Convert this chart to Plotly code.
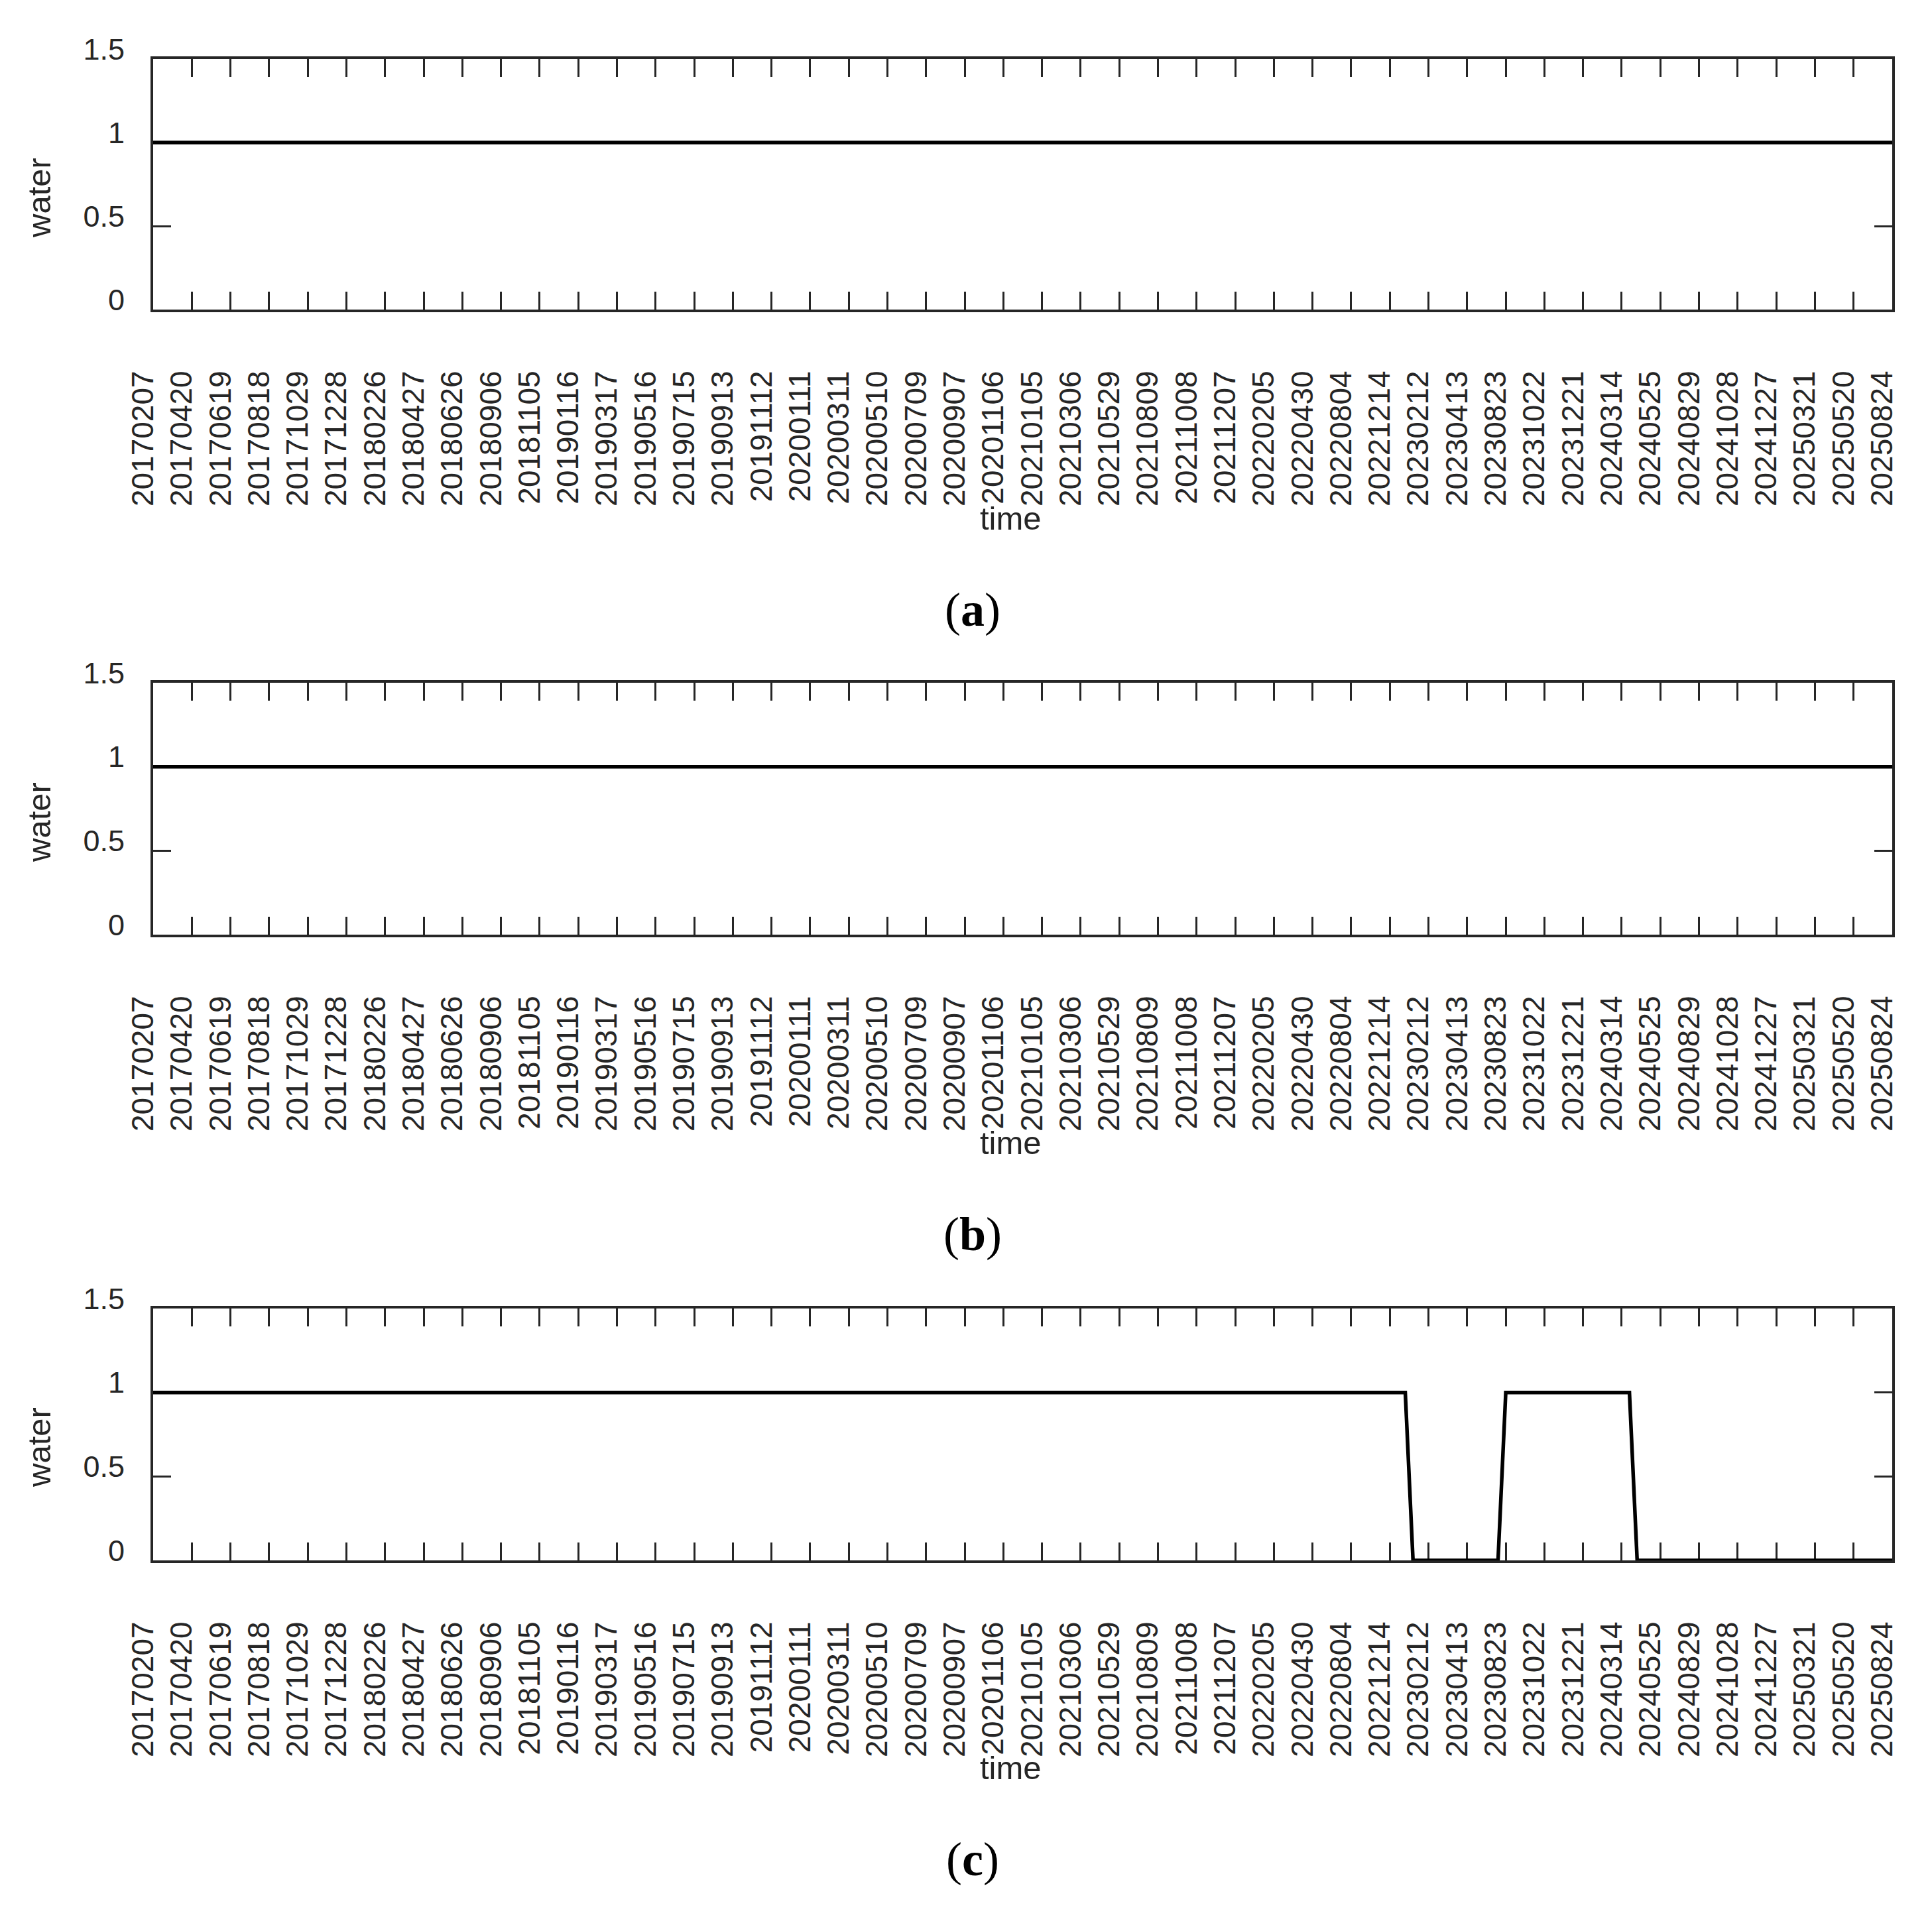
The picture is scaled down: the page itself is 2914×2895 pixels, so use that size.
import plotly.graph_objects as go

# ---------------- data ----------------
tick_labels = [
    "20170207", "20170420", "20170619", "20170818", "20171029", "20171228",
    "20180226", "20180427", "20180626", "20180906", "20181105", "20190116",
    "20190317", "20190516", "20190715", "20190913", "20191112", "20200111",
    "20200311", "20200510", "20200709", "20200907", "20201106", "20210105",
    "20210306", "20210529", "20210809", "20211008", "20211207", "20220205",
    "20220430", "20220804", "20221214", "20230212", "20230413", "20230823",
    "20231022", "20231221", "20240314", "20240525", "20240829", "20241028",
    "20241227", "20250321", "20250520", "20250824",
]
samples_per_tick = 5

water_a = [
    1, 1, 1, 1, 1, 1, 1, 1, 1, 1, 1, 1, 1, 1, 1, 1, 1, 1, 1, 1,
    1, 1, 1, 1, 1, 1, 1, 1, 1, 1, 1, 1, 1, 1, 1, 1, 1, 1, 1, 1,
    1, 1, 1, 1, 1, 1, 1, 1, 1, 1, 1, 1, 1, 1, 1, 1, 1, 1, 1, 1,
    1, 1, 1, 1, 1, 1, 1, 1, 1, 1, 1, 1, 1, 1, 1, 1, 1, 1, 1, 1,
    1, 1, 1, 1, 1, 1, 1, 1, 1, 1, 1, 1, 1, 1, 1, 1, 1, 1, 1, 1,
    1, 1, 1, 1, 1, 1, 1, 1, 1, 1, 1, 1, 1, 1, 1, 1, 1, 1, 1, 1,
    1, 1, 1, 1, 1, 1, 1, 1, 1, 1, 1, 1, 1, 1, 1, 1, 1, 1, 1, 1,
    1, 1, 1, 1, 1, 1, 1, 1, 1, 1, 1, 1, 1, 1, 1, 1, 1, 1, 1, 1,
    1, 1, 1, 1, 1, 1, 1, 1, 1, 1, 1, 1, 1, 1, 1, 1, 1, 1, 1, 1,
    1, 1, 1, 1, 1, 1, 1, 1, 1, 1, 1, 1, 1, 1, 1, 1, 1, 1, 1, 1,
    1, 1, 1, 1, 1, 1, 1, 1, 1, 1, 1, 1, 1, 1, 1, 1, 1, 1, 1, 1,
    1, 1, 1, 1, 1, 1,
]

water_b = [
    1, 1, 1, 1, 1, 1, 1, 1, 1, 1, 1, 1, 1, 1, 1, 1, 1, 1, 1, 1,
    1, 1, 1, 1, 1, 1, 1, 1, 1, 1, 1, 1, 1, 1, 1, 1, 1, 1, 1, 1,
    1, 1, 1, 1, 1, 1, 1, 1, 1, 1, 1, 1, 1, 1, 1, 1, 1, 1, 1, 1,
    1, 1, 1, 1, 1, 1, 1, 1, 1, 1, 1, 1, 1, 1, 1, 1, 1, 1, 1, 1,
    1, 1, 1, 1, 1, 1, 1, 1, 1, 1, 1, 1, 1, 1, 1, 1, 1, 1, 1, 1,
    1, 1, 1, 1, 1, 1, 1, 1, 1, 1, 1, 1, 1, 1, 1, 1, 1, 1, 1, 1,
    1, 1, 1, 1, 1, 1, 1, 1, 1, 1, 1, 1, 1, 1, 1, 1, 1, 1, 1, 1,
    1, 1, 1, 1, 1, 1, 1, 1, 1, 1, 1, 1, 1, 1, 1, 1, 1, 1, 1, 1,
    1, 1, 1, 1, 1, 1, 1, 1, 1, 1, 1, 1, 1, 1, 1, 1, 1, 1, 1, 1,
    1, 1, 1, 1, 1, 1, 1, 1, 1, 1, 1, 1, 1, 1, 1, 1, 1, 1, 1, 1,
    1, 1, 1, 1, 1, 1, 1, 1, 1, 1, 1, 1, 1, 1, 1, 1, 1, 1, 1, 1,
    1, 1, 1, 1, 1, 1,
]

water_c = [
    1, 1, 1, 1, 1, 1, 1, 1, 1, 1, 1, 1, 1, 1, 1, 1, 1, 1, 1, 1,
    1, 1, 1, 1, 1, 1, 1, 1, 1, 1, 1, 1, 1, 1, 1, 1, 1, 1, 1, 1,
    1, 1, 1, 1, 1, 1, 1, 1, 1, 1, 1, 1, 1, 1, 1, 1, 1, 1, 1, 1,
    1, 1, 1, 1, 1, 1, 1, 1, 1, 1, 1, 1, 1, 1, 1, 1, 1, 1, 1, 1,
    1, 1, 1, 1, 1, 1, 1, 1, 1, 1, 1, 1, 1, 1, 1, 1, 1, 1, 1, 1,
    1, 1, 1, 1, 1, 1, 1, 1, 1, 1, 1, 1, 1, 1, 1, 1, 1, 1, 1, 1,
    1, 1, 1, 1, 1, 1, 1, 1, 1, 1, 1, 1, 1, 1, 1, 1, 1, 1, 1, 1,
    1, 1, 1, 1, 1, 1, 1, 1, 1, 1, 1, 1, 1, 1, 1, 1, 1, 1, 1, 1,
    1, 1, 1, 0, 0, 0, 0, 0, 0, 0, 0, 0, 0, 0, 0, 1, 1, 1, 1, 1,
    1, 1, 1, 1, 1, 1, 1, 1, 1, 1, 1, 1, 0, 0, 0, 0, 0, 0, 0, 0,
    0, 0, 0, 0, 0, 0, 0, 0, 0, 0, 0, 0, 0, 0, 0, 0, 0, 0, 0, 0,
    0, 0, 0, 0, 0, 0,
]

y_tick_vals = [0, 0.5, 1, 1.5]
y_tick_text = ["0", "0.5", "1", "1.5"]
panel_letters = ["a", "b", "c"]

# ---------------- layout geometry (pixels, page body has 8px margin) ----------------
W, H = 2914, 2895
S = 8  # browser body offset
LEFT, RIGHT = 231 - S, 2854 - S
TOPS = [89 - S, 1030 - S, 1974 - S]
BOTTOMS = [467 - S, 1410 - S, 2354 - S]

AX_COLOR = "#262626"
SANS = "Liberation Sans, Arial, sans-serif"
SERIF = "Liberation Serif, Times New Roman, serif"

fig = go.Figure()
series = [water_a, water_b, water_c]
annotations = []

for i, ys in enumerate(series):
    n = i + 1
    xs = list(range(len(ys)))
    xa = "x" if n == 1 else f"x{n}"
    ya = "y" if n == 1 else f"y{n}"
    fig.add_trace(go.Scatter(
        x=xs, y=ys, mode="lines", xaxis=xa, yaxis=ya,
        line=dict(color="black", width=5.5), showlegend=False,
        hoverinfo="skip",
    ))
    tickvals = xs[::samples_per_tick]
    xkey = "xaxis" if n == 1 else f"xaxis{n}"
    ykey = "yaxis" if n == 1 else f"yaxis{n}"
    fig.update_layout({
        xkey: dict(
            domain=[LEFT / W, RIGHT / W], anchor=ya,
            range=[0, len(ys) - 1],
            tickmode="array", tickvals=tickvals, ticktext=tick_labels,
            tickangle=-90, ticks="inside", ticklen=27, tickwidth=3,
            tickcolor=AX_COLOR, showline=True, linewidth=4,
            linecolor=AX_COLOR, mirror="ticks", showgrid=False,
            zeroline=False, tickfont=dict(family=SANS, size=46, color=AX_COLOR),
            ticklabelstandoff=70, ticklabelshift=-15, automargin=False,
            layer="below traces",
        ),
        ykey: dict(
            domain=[1 - BOTTOMS[i] / H, 1 - TOPS[i] / H], anchor=xa,
            range=[0, 1.5],
            tickmode="array", tickvals=y_tick_vals, ticktext=y_tick_text,
            ticks="inside", ticklen=27, tickwidth=3, tickcolor=AX_COLOR,
            showline=True, linewidth=4, linecolor=AX_COLOR, mirror="ticks",
            showgrid=False, zeroline=False,
            tickfont=dict(family=SANS, size=45, color=AX_COLOR),
            ticklabelstandoff=30, ticklabelshift=-15, automargin=False,
            layer="below traces",
        ),
    })
    off = [0, 942, 1885][i]
    # y-axis title
    annotations.append(dict(
        text="water", textangle=-90, xref="paper", yref="paper",
        x=(59 - S) / W, y=1 - (299 + off - S) / H, xanchor="center", yanchor="middle",
        showarrow=False, font=dict(family=SANS, size=49, color=AX_COLOR),
    ))
    # x-axis title
    annotations.append(dict(
        text="time", xref="paper", yref="paper",
        x=(1525 - S) / W, y=1 - (782 + off - S) / H, xanchor="center", yanchor="middle",
        showarrow=False, font=dict(family=SANS, size=49, color=AX_COLOR),
    ))
    # panel letter
    annotations.append(dict(
        text=f"(<b>{panel_letters[i]}</b>)", xref="paper", yref="paper",
        x=(1467 - S) / W, y=1 - (920 + off - S) / H, xanchor="center", yanchor="middle",
        showarrow=False, font=dict(family=SERIF, size=72, color="black"),
    ))

fig.update_layout(
    width=W, height=H,
    margin=dict(l=0, r=0, t=0, b=0, autoexpand=False),
    paper_bgcolor="white", plot_bgcolor="white",
    annotations=annotations,
    showlegend=False,
)

fig.write_html("out.html")
